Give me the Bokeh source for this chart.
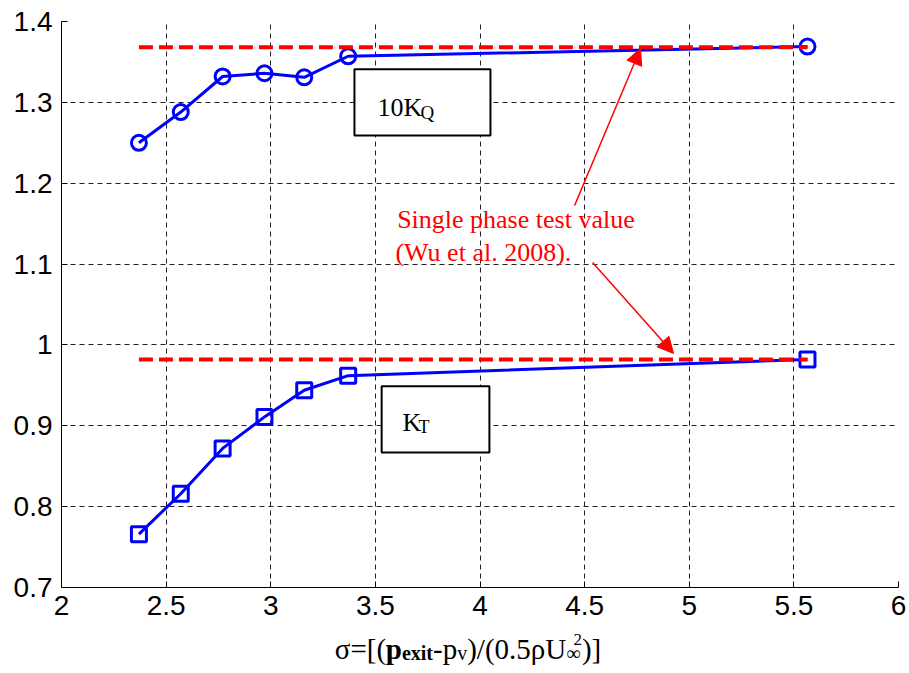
from bokeh.plotting import figure
from bokeh.layouts import column
from bokeh.models import (Label, BoxAnnotation, Arrow, NormalHead, FixedTicker,
                          CustomJSTickFormatter, Range1d)
from bokeh.embed import file_html
from bokeh.resources import INLINE

# ---------------- data ----------------
sigma = [2.37, 2.57, 2.77, 2.97, 3.16, 3.37, 5.565]
kq10 = [1.250, 1.288, 1.332, 1.336, 1.331, 1.357, 1.369]
kt = [0.766, 0.816, 0.872, 0.911, 0.944, 0.962, 0.982]
ref_x = [2.37, 5.565]
ref_kq10 = [1.368, 1.368]
ref_kt = [0.982, 0.982]
x_ticks = [2, 2.5, 3, 3.5, 4, 4.5, 5, 5.5, 6]
y_ticks = [0.7, 0.8, 0.9, 1.0, 1.1, 1.2, 1.3, 1.4]

BLUE = "#0000ff"
RED = "#ff0000"
SERIF = "Liberation Serif"

p = figure(width=909, height=627, x_range=Range1d(2, 6), y_range=Range1d(0.7, 1.4),
           output_backend="svg", toolbar_location=None,
           min_border_left=61, min_border_right=11, min_border_top=21, min_border_bottom=40)
p.title.visible = False
p.outline_line_color = None
p.background_fill_color = "white"
p.border_fill_color = "white"

for ax, ticks in ((p.xaxis[0], x_ticks), (p.yaxis[0], y_ticks)):
    ax.ticker = FixedTicker(ticks=ticks)
    ax.formatter = CustomJSTickFormatter(code="return String(tick);")
    ax.major_label_text_font = "Liberation Sans"
    ax.major_label_text_font_size = "28px"
    ax.major_label_text_color = "black"
    ax.major_tick_in = 6
    ax.major_tick_out = 0
    ax.minor_tick_line_color = None
    ax.axis_line_color = "black"
    ax.axis_line_width = 1
    ax.major_tick_line_color = "black"
p.xaxis.major_label_standoff = 8
p.yaxis.major_label_standoff = 9

for g in (p.xgrid[0], p.ygrid[0]):
    g.grid_line_color = "#222222"
    g.grid_line_dash = "5 4"
    g.grid_line_width = 1
p.xgrid.ticker = FixedTicker(ticks=x_ticks)
p.ygrid.ticker = FixedTicker(ticks=y_ticks)

# data series
p.line(sigma, kq10, line_color=BLUE, line_width=3)
p.scatter(sigma, kq10, marker="circle", size=15, fill_color=None, line_color=BLUE, line_width=3)
p.line(sigma, kt, line_color=BLUE, line_width=3)
p.scatter(sigma, kt, marker="square", size=15, fill_color=None, line_color=BLUE, line_width=3)

# single phase reference lines
p.line(ref_x, ref_kq10, line_color=RED, line_width=4, line_dash="14 6")
p.line(ref_x, ref_kt, line_color=RED, line_width=4, line_dash="14 6")

# text boxes
p.add_layout(BoxAnnotation(left=3.40, right=4.05, bottom=1.259, top=1.341,
                           fill_color="white", fill_alpha=1.0,
                           line_color="black", line_width=2, line_alpha=1.0))
p.add_layout(BoxAnnotation(left=3.53, right=4.045, bottom=0.867, top=0.949,
                           fill_color="white", fill_alpha=1.0,
                           line_color="black", line_width=2, line_alpha=1.0))

def lab(fig, x, y, text, size, color="black", style="normal", font=SERIF):
    fig.add_layout(Label(x=x, y=y, text=text, text_font=font, text_font_size=size,
                         text_color=color, text_font_style=style,
                         text_baseline="alphabetic", text_align="left"))

lab(p, 3.51, 1.2936, "10K", "26px")
lab(p, 3.716, 1.2878, "Q", "19px")
lab(p, 3.630, 0.9041, "K", "26px")
lab(p, 3.706, 0.8991, "T", "18px")

lab(p, 3.604, 1.1551, "Single phase test value", "26px", color=RED)
lab(p, 3.596, 1.1143, "(Wu et al. 2008).", "26px", color=RED)

# arrows
p.add_layout(Arrow(x_start=4.452, y_start=1.1724, x_end=4.767, y_end=1.3666,
                   line_color=RED, line_width=1.5,
                   end=NormalHead(size=16, fill_color=RED, line_color=RED, line_width=1)))
p.add_layout(Arrow(x_start=4.538, y_start=1.102, x_end=4.925, y_end=0.9894,
                   line_color=RED, line_width=1.5,
                   end=NormalHead(size=16, fill_color=RED, line_color=RED, line_width=1)))

# ---------------- x-axis label strip (composed rich text) ----------------
# frame aligned with the main plot's frame -> data x == page pixel x
q = figure(width=909, height=46, x_range=Range1d(61, 898), y_range=Range1d(0, 46),
           output_backend="svg", toolbar_location=None,
           min_border_left=61, min_border_right=11, min_border_top=0, min_border_bottom=0,
           x_axis_type=None, y_axis_type=None)
q.title.visible = False
q.outline_line_color = None
q.xgrid.visible = False
q.ygrid.visible = False
q.background_fill_color = "white"
q.border_fill_color = "white"

F, f, fs = 29, 20, 17
pieces = [
    ("σ=[(", "normal", "main", 1.76),
    ("p", "bold", "main", 0.556),
    ("exit", "bold", "sub", 1.555),
    ("-p", "normal", "main", 0.833),
    ("v", "normal", "sub", 0.5),
    (")/(0.5ρU", "normal", "main", 3.416),
    ("∞", "normal", "sub", 0.713),
    ("2", "normal", "sup", 0.5),
    (")]", "normal", "main", 0.666),
]
total = 0.0
for t, st, kind, w in pieces:
    if kind == "main":
        total += w * F
    elif kind == "sub":
        total += w * f
    else:
        total += w * fs * 0.4
cur = 468.5 - total / 2
prev_start = cur
for t, st, kind, w in pieces:
    if kind == "main":
        size, yb, adv = F, 25, w * F
        x0 = cur
    elif kind == "sub":
        size, yb, adv = f, 21, w * f
        x0 = cur
    else:
        size, yb = fs, 34
        x0 = prev_start + 0.5 * 0.713 * f
        adv = (x0 + w * fs) - cur
    lab(q, x0, yb, t, f"{size}px", style=st)
    prev_start = x0
    cur = cur + adv

layout = column(p, q, spacing=0)
open("out.html", "w").write(file_html(layout, INLINE))
